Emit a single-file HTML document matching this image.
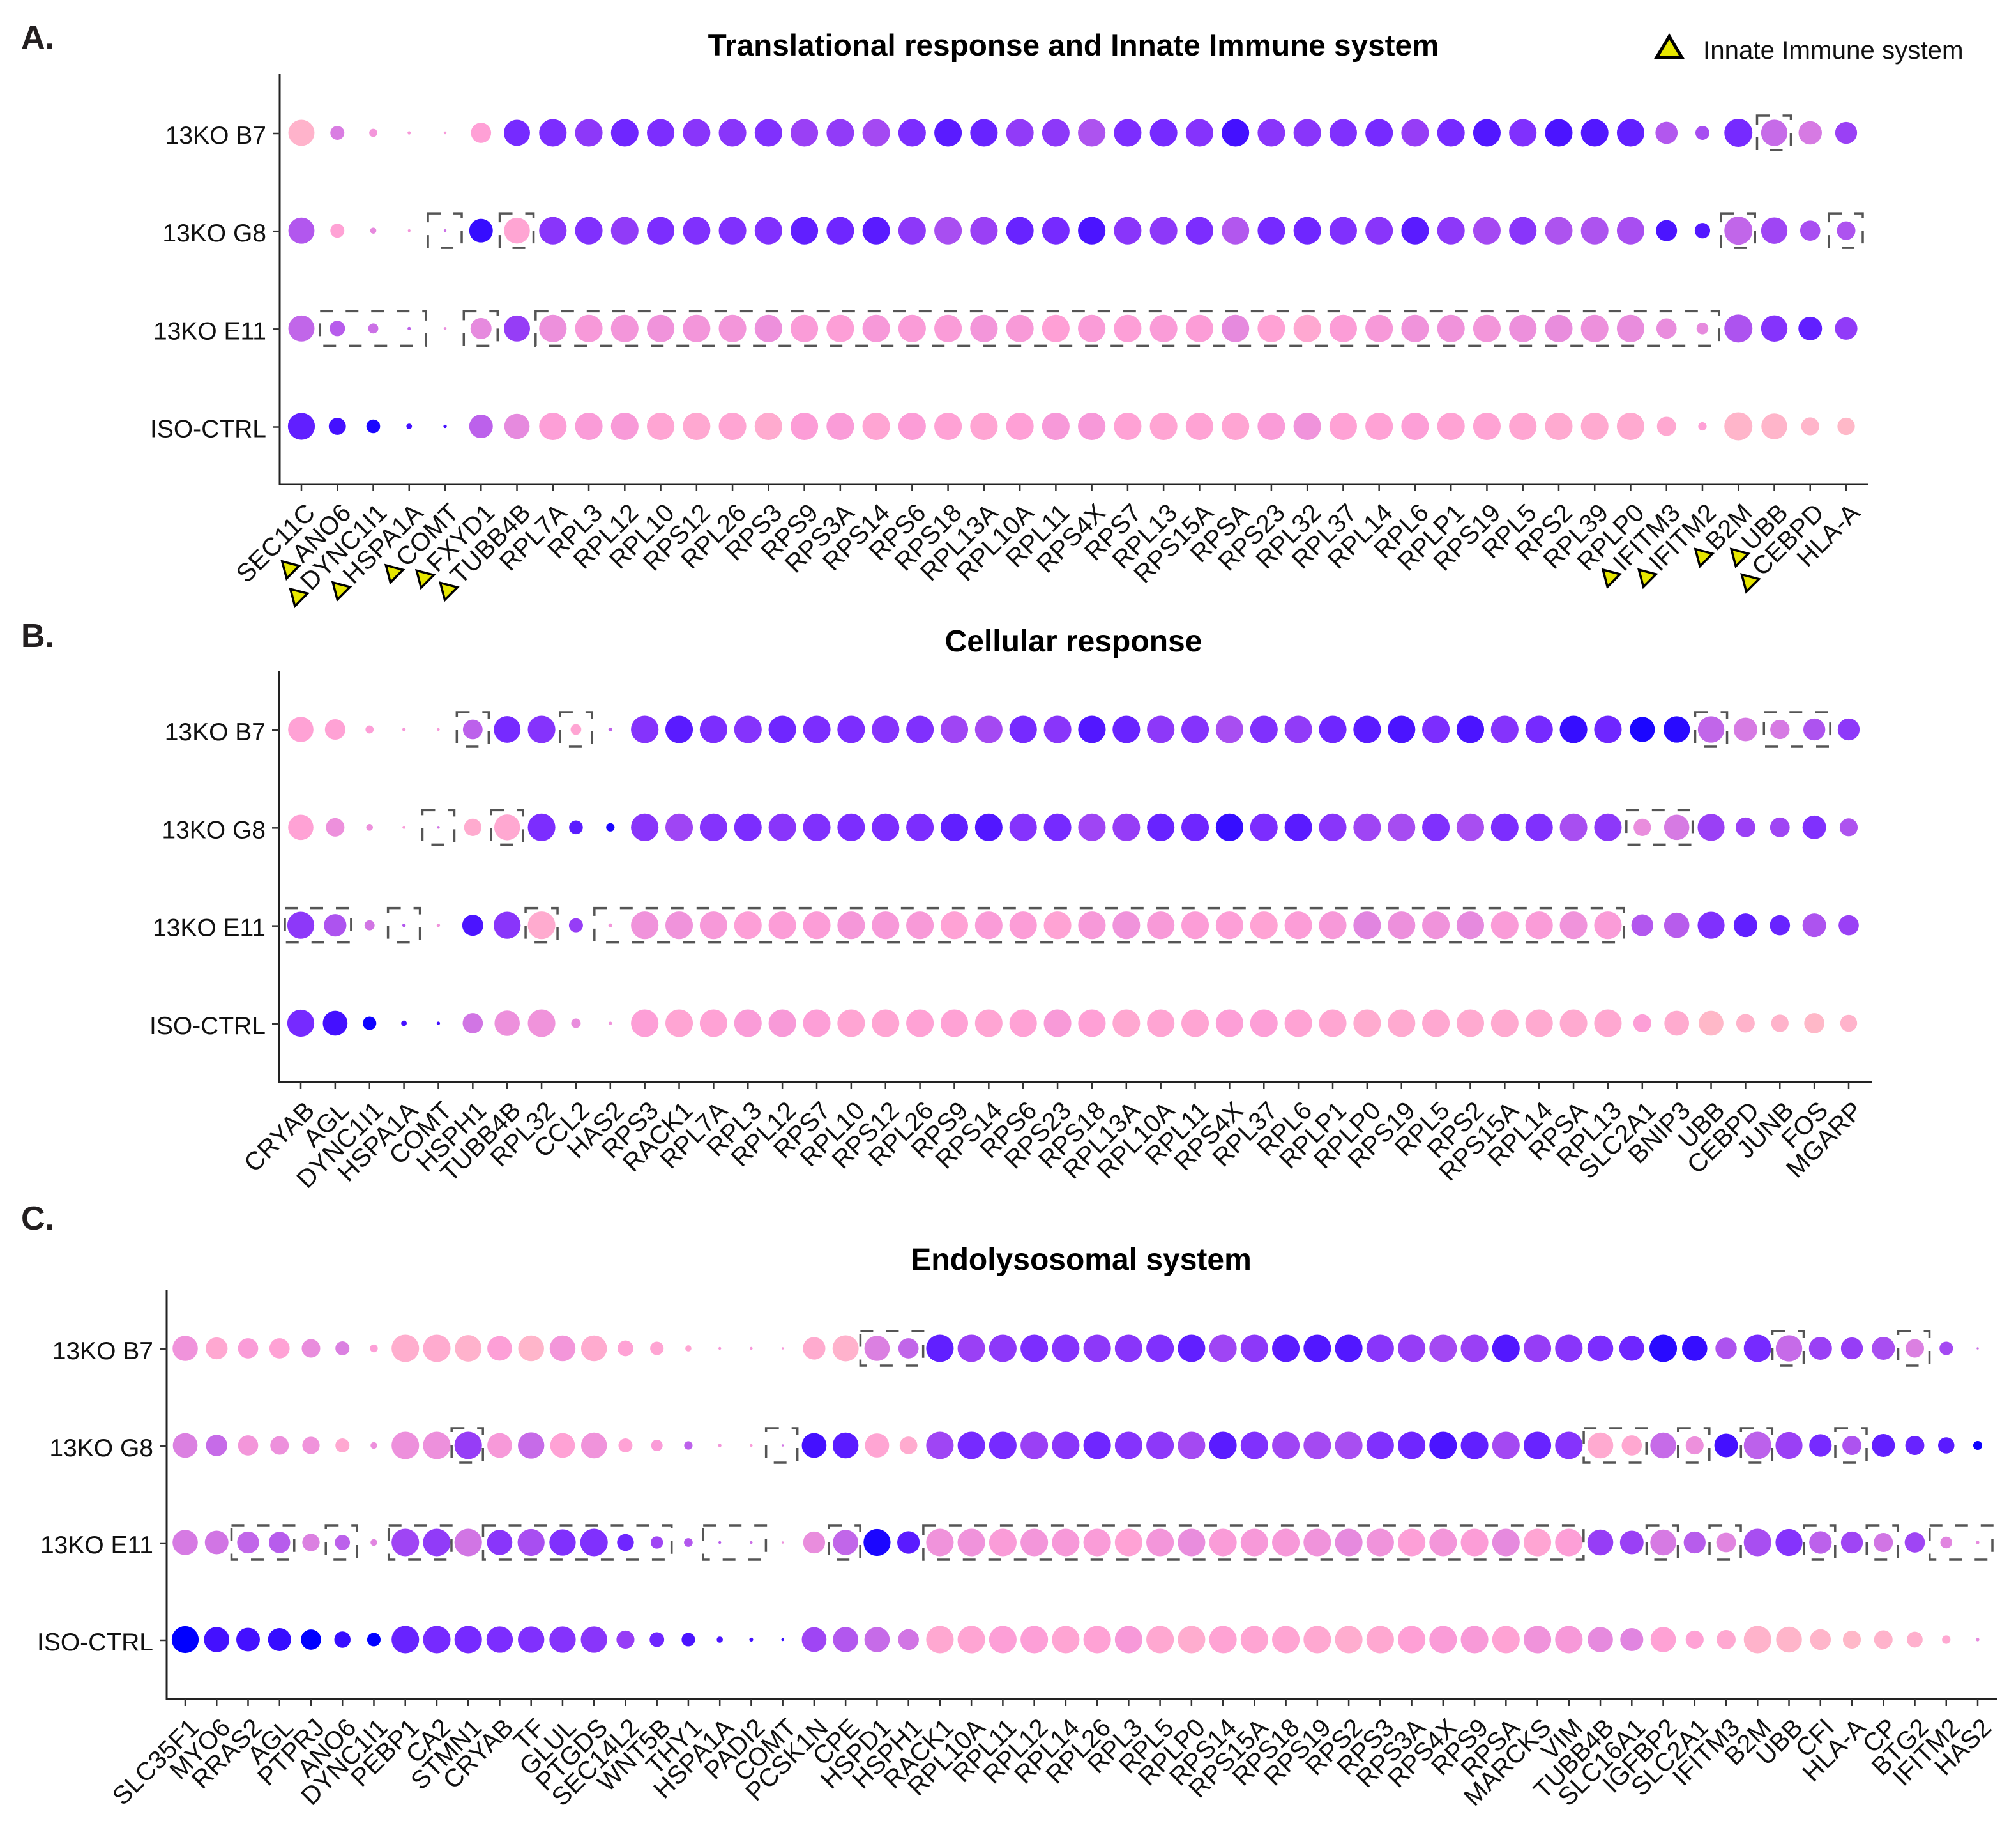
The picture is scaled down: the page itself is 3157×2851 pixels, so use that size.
<!DOCTYPE html>
<html lang="en">
<head>
<meta charset="utf-8">
<title>Dot plots: Translational response, Cellular response, Endolysosomal system</title>
<style>
html,body{margin:0;padding:0;background:#fff;}
svg{display:block;}
text{font-family:"Liberation Sans",sans-serif;fill:#111;}
</style>
</head>
<body>
<svg id="chart" xmlns="http://www.w3.org/2000/svg" width="3157" height="2851" viewBox="0 0 3157 2851">
  <text x="33" y="76" font-size="52" font-weight="700" style="fill:#231f20">A.</text>
  <text x="33" y="1013" font-size="52" font-weight="700" style="fill:#231f20">B.</text>
  <text x="33" y="1925" font-size="52" font-weight="700" style="fill:#231f20">C.</text>
  <text x="1681" y="87" font-size="47.7" font-weight="700" text-anchor="middle" style="fill:#000">Translational response and Innate Immune system</text>
  <text x="1681" y="1020" font-size="48" font-weight="700" text-anchor="middle" style="fill:#000">Cellular response</text>
  <text x="1693" y="1988" font-size="48" font-weight="700" text-anchor="middle" style="fill:#000">Endolysosomal system</text>
  <polygon points="2614,57 2634,90.4 2594,90.4" fill="#e6e600" stroke="#000" stroke-width="5"/>
  <text x="2667" y="92" font-size="40.3">Innate Immune system</text>
</svg>
<script>
// ---------- shared data ----------
const rowLabels = ['13KO B7','13KO G8','13KO E11','ISO-CTRL'];

// ---------- Panel A ----------
const genesA = ['SEC11C','ANO6','DYNC1I1','HSPA1A','COMT','FXYD1','TUBB4B','RPL7A','RPL3','RPL12','RPL10','RPS12','RPL26','RPS3','RPS9','RPS3A','RPS14','RPS6','RPS18','RPL13A','RPL10A','RPL11','RPS4X','RPS7','RPL13','RPS15A','RPSA','RPS23','RPL32','RPL37','RPL14','RPL6','RPLP1','RPS19','RPL5','RPS2','RPL39','RPLP0','IFITM3','IFITM2','B2M','UBB','CEBPD','HLA-A'];
const innateGenesA = ['ANO6','DYNC1I1','HSPA1A','COMT','FXYD1','TUBB4B','IFITM3','IFITM2','B2M','UBB','CEBPD'];
const pctA_B7 = [93,50,29,12,10,72,93,98,98,98,98,98,98,98,98,98,98,98,98,98,98,98,98,98,98,98,98,98,98,98,98,98,98,98,98,98,98,98,79,50,100,94,83,78];
const pctA_G8 = [93,50,22,10,10,84,92,98,98,98,98,98,98,98,98,98,98,98,98,98,98,98,98,98,98,98,98,98,98,98,98,98,98,98,98,98,98,98,75,55,100,94,72,66];
const pctA_E11 = [93,55,36,12,10,75,93,98,98,98,98,98,98,98,98,98,98,98,98,98,98,98,98,98,98,98,98,98,98,98,98,98,98,98,98,98,98,98,72,42,100,94,84,80];
const pctA_ISO = [96,61,49,20,12,84,90,98,98,98,98,98,98,98,98,98,98,98,98,98,98,98,98,98,98,98,98,98,98,98,98,98,98,98,98,98,98,98,68,30,100,92,64,62];
const exprA_B7 = [3,35,22,20,20,15,76,74,66,78,74,68,68,72,60,64,56,74,84,80,64,66,52,74,76,70,90,68,68,72,76,62,76,86,72,88,86,82,50,55,76,42,36,60];
const exprA_G8 = [50,14,30,22,40,92,12,68,72,64,74,72,72,72,82,78,84,66,54,60,80,76,88,68,66,74,50,76,78,72,68,84,66,56,68,52,52,54,88,86,44,58,54,52];
const exprA_E11 = [44,48,40,45,28,30,62,26,20,22,24,22,22,26,18,16,20,18,18,22,19,15,18,16,18,17,30,14,10,17,20,24,24,22,26,28,26,28,28,30,52,70,82,64];
const exprA_ISO = [82,90,96,90,90,46,30,16,18,19,12,10,12,8,17,18,12,17,14,12,15,20,20,14,12,13,12,18,24,14,14,16,13,13,11,9,9,9,10,15,2,2,2,0];
const boxesA = [[0,41,41],[1,4,4],[1,6,6],[1,40,40],[1,43,43],[2,1,3],[2,5,5],[2,7,39]];

// ---------- Panel B ----------
const genesB = ['CRYAB','AGL','DYNC1I1','HSPA1A','COMT','HSPH1','TUBB4B','RPL32','CCL2','HAS2','RPS3','RACK1','RPL7A','RPL3','RPL12','RPS7','RPL10','RPS12','RPL26','RPS9','RPS14','RPS6','RPS23','RPS18','RPL13A','RPL10A','RPL11','RPS4X','RPL37','RPL6','RPLP1','RPLP0','RPS19','RPL5','RPS2','RPS15A','RPL14','RPSA','RPL13','SLC2A1','BNIP3','UBB','CEBPD','JUNB','FOS','MGARP'];
const pctB_B7 = [90,73,29,12,10,70,95,98,38,14,98,98,98,98,98,98,98,98,98,98,98,98,98,98,98,98,98,98,98,98,98,98,98,98,98,98,98,98,98,89,94,94,84,69,78,78];
const pctB_G8 = [90,66,24,11,10,62,92,98,49,30,98,98,98,98,98,98,98,98,98,98,98,98,98,98,98,98,98,98,98,98,98,98,98,98,98,98,98,98,98,62,90,96,70,70,84,64];
const pctB_E11 = [96,80,36,12,12,75,96,98,50,14,98,98,98,98,98,98,98,98,98,98,98,98,98,98,98,98,98,98,98,98,98,98,98,98,98,98,98,98,98,78,90,96,84,72,84,72];
const pctB_ISO = [96,88,48,20,12,72,90,98,34,12,98,98,98,98,98,98,98,98,98,98,98,98,98,98,98,98,98,98,98,98,98,98,98,98,98,98,98,98,98,64,88,88,66,62,72,60];
const exprB_B7 = [14,14,16,20,20,46,76,70,12,45,70,84,74,70,78,74,74,70,72,58,56,76,68,86,80,66,70,54,72,64,78,84,88,74,88,70,76,92,78,96,94,44,36,36,52,66];
const exprB_G8 = [14,26,26,18,38,8,10,74,84,96,68,58,70,74,68,72,74,74,74,82,86,70,76,58,62,80,78,92,74,84,68,58,55,72,54,74,72,54,66,28,36,60,60,58,72,52];
const exprB_E11 = [66,52,38,50,24,88,68,8,62,22,24,24,20,16,17,17,21,20,19,14,18,17,13,20,24,19,17,16,13,17,20,32,26,24,30,18,18,24,18,50,48,72,82,80,52,60];
const exprB_ISO = [76,90,98,90,90,38,26,24,28,24,16,12,14,18,19,16,12,12,14,14,12,14,19,15,10,12,12,16,16,13,11,8,9,10,9,9,9,9,10,16,8,0,3,3,0,3];
const boxesB = [[0,5,5],[0,8,8],[0,41,41],[0,43,44],[1,4,4],[1,6,6],[1,39,40],[2,0,1],[2,3,3],[2,7,7],[2,9,38]];

// ---------- Panel C ----------
const genesC = ['SLC35F1','MYO6','RRAS2','AGL','PTPRJ','ANO6','DYNC1I1','PEBP1','CA2','STMN1','CRYAB','TF','GLUL','PTGDS','SEC14L2','WNT5B','THY1','HSPA1A','PADI2','COMT','PCSK1N','CPE','HSPD1','HSPH1','RACK1','RPL10A','RPL11','RPL12','RPL14','RPL26','RPL3','RPL5','RPLP0','RPS14','RPS15A','RPS18','RPS19','RPS2','RPS3','RPS3A','RPS4X','RPS9','RPSA','MARCKS','VIM','TUBB4B','SLC16A1','IGFBP2','SLC2A1','IFITM3','B2M','UBB','CFI','HLA-A','CP','BTG2','IFITM2','HAS2'];
const pctC_B7 = [90,78,72,72,66,50,28,98,98,95,88,92,92,92,56,48,22,10,10,8,80,93,90,72,98,98,98,98,98,98,98,98,98,98,98,98,98,98,98,98,98,98,98,98,98,92,89,98,90,76,98,94,82,78,82,66,48,8];
const pctC_G8 = [88,76,72,66,62,50,24,98,98,98,88,94,88,92,50,41,30,12,10,8,88,92,86,63,98,98,98,98,98,98,98,98,98,98,98,98,98,98,98,98,98,98,98,98,98,92,72,92,64,84,98,96,80,68,82,68,58,32];
const pctC_E11 = [90,84,78,76,62,54,24,98,98,98,90,96,94,98,60,44,31,10,10,8,78,90,96,80,98,98,98,98,98,98,98,98,98,98,98,98,98,98,98,98,98,98,98,98,98,92,84,92,78,70,98,96,80,78,68,72,42,12];
const pctC_ISO = [96,90,84,82,72,58,48,98,98,98,94,94,94,94,64,52,48,22,14,10,88,90,90,74,98,98,98,98,98,98,98,98,98,98,98,98,98,98,98,98,98,98,98,98,98,90,82,90,64,68,98,92,74,64,66,56,30,12];
const exprC_B7 = [24,10,18,14,28,34,16,6,8,4,16,2,22,8,14,12,12,20,20,20,8,4,34,44,82,60,66,74,70,66,68,72,82,58,66,84,86,86,68,62,56,60,86,62,68,74,78,94,92,52,76,42,60,62,54,34,56,40];
const exprC_G8 = [34,42,22,26,24,10,26,26,26,62,20,42,14,24,14,18,46,22,18,38,90,84,12,8,58,76,76,60,68,78,70,66,56,84,72,58,56,54,72,78,88,82,56,80,70,9,10,42,26,90,46,60,76,52,82,80,84,98];
const exprC_E11 = [36,38,44,48,34,46,32,58,64,38,68,54,72,72,78,58,50,48,40,26,28,44,96,84,24,24,18,22,20,18,14,22,28,18,20,20,24,30,24,16,22,17,30,12,16,62,60,36,48,32,54,70,46,58,38,58,32,30];
const exprC_ISO = [100,90,90,92,100,92,100,80,76,76,74,72,70,68,62,78,88,88,90,92,58,50,42,38,10,12,16,16,12,14,20,10,7,13,12,12,10,7,10,15,18,19,13,24,20,30,32,14,14,10,3,2,2,0,3,5,10,30];
const boxesC = [[0,22,23],[0,51,51],[0,55,55],[1,9,9],[1,19,19],[1,45,46],[1,48,48],[1,50,50],[1,53,53],[2,2,3],[2,5,5],[2,7,8],[2,10,15],[2,17,18],[2,21,21],[2,24,44],[2,47,47],[2,49,49],[2,52,52],[2,54,54],[2,56,57]];

// ---------- layout (not data) ----------
const panels = [
  {id:'a',genes:genesA,pct:[pctA_B7,pctA_G8,pctA_E11,pctA_ISO],expr:[exprA_B7,exprA_G8,exprA_E11,exprA_ISO],boxes:boxesA,innate:innateGenesA,
   axisX:438,axisTop:116,axisBottom:758,axisRight:2926,firstX:472,lastX:2891,firstY:208,lastY:667.5,padL:27,padR:26},
  {id:'b',genes:genesB,pct:[pctB_B7,pctB_G8,pctB_E11,pctB_ISO],expr:[exprB_B7,exprB_G8,exprB_E11,exprB_ISO],boxes:boxesB,innate:[],
   axisX:437,axisTop:1051,axisBottom:1694,axisRight:2931,firstX:471,lastX:2895,firstY:1142,lastY:1602,padL:25,padR:25},
  {id:'c',genes:genesC,pct:[pctC_B7,pctC_G8,pctC_E11,pctC_ISO],expr:[exprC_B7,exprC_G8,exprC_E11,exprC_ISO],boxes:boxesC,innate:[],
   axisX:261,axisTop:2020,axisBottom:2660,axisRight:3127,firstX:290,lastX:3097,firstY:2111,lastY:2567,padL:26,padR:23}
];

// colour ramp: expression 0..100
const rampStops = [0,15,30,45,60,75,90,100];
const rampColors = [[255,184,200],[255,160,214],[230,138,222],[190,99,234],[154,64,245],[122,44,255],[68,16,255],[0,0,255]];
function colorScale(v){
  let i = 0;
  while(i < rampStops.length-2 && v > rampStops[i+1]) i++;
  const f = Math.max(0,Math.min(1,(v-rampStops[i])/(rampStops[i+1]-rampStops[i])));
  const c = rampColors[i].map((a,k)=>Math.round(a+(rampColors[i+1][k]-a)*f));
  return 'rgb('+c.join(',')+')';
}
function radiusScale(p){ return p*0.22; }

const svg = document.getElementById('chart');
const NS = 'http://www.w3.org/2000/svg';
function mk(tag,attrs,parent){
  const el = document.createElementNS(NS,tag);
  for(const k in attrs) el.setAttribute(k,attrs[k]);
  (parent||svg).appendChild(el);
  return el;
}

panels.forEach(function(P){
  const n = P.genes.length;
  const xScale = function(i){ return P.firstX + i*(P.lastX-P.firstX)/(n-1); };
  const yScale = function(r){ return P.firstY + r*(P.lastY-P.firstY)/(rowLabels.length-1); };

  const g = mk('g',{});
  
  

  // axes
  const yAxis = mk('line',{x1:P.axisX,x2:P.axisX,y1:P.axisTop,y2:P.axisBottom+1.5,stroke:'#222','stroke-width':3},g);
  
  
  const xAxis = mk('line',{x1:P.axisX,x2:P.axisRight,y1:P.axisBottom,y2:P.axisBottom,stroke:'#222','stroke-width':3},g);
  
  

  // y ticks + labels
  rowLabels.forEach(function(label,r){
    const y = yScale(r);
    const t = mk('line',{x1:P.axisX-11,x2:P.axisX,y1:y+1,y2:y+1,stroke:'#333','stroke-width':2.5},g);
    
    
    const lb = mk('text',{x:P.axisX-21,y:y+17,'font-size':39,'text-anchor':'end'},g);
    lb.textContent = label;
    
    
  });

  // x ticks + labels + innate triangles
  P.genes.forEach(function(gene,i){
    const x = xScale(i);
    const t = mk('line',{x1:x,x2:x,y1:P.axisBottom,y2:P.axisBottom+11,stroke:'#333','stroke-width':2.5},g);
    
    
    const ax = x+24, ay = P.axisBottom+47;
    const lb = mk('text',{x:ax,y:ay,'font-size':40,'letter-spacing':'0.4','text-anchor':'end',transform:'rotate(-45 '+ax+' '+ay+')'},g);
    lb.textContent = gene;
    
    
    if(P.innate.indexOf(gene) >= 0){
      const w = lb.getComputedTextLength()*Math.SQRT1_2;
      const cx = ax-w-21, cy = ay+w+7;
      const tri = mk('polygon',{points:'0,-16 14,8 -14,8',fill:'#e6e600',stroke:'#000','stroke-width':3.5,transform:'translate('+cx+' '+cy+') rotate(-45)'},g);
      
      
    }
  });

  // dots
  rowLabels.forEach(function(label,r){
    P.genes.forEach(function(gene,i){
      const c = mk('circle',{cx:xScale(i),cy:yScale(r),r:radiusScale(P.pct[r][i]),fill:colorScale(P.expr[r][i])},g);
      
      
    });
  });

  // dashed highlight boxes
  P.boxes.forEach(function(b){
    const x0 = xScale(b[1])-P.padL, x1 = xScale(b[2])+P.padR, y = yScale(b[0]);
    const rect = mk('rect',{x:x0,y:y-27,width:x1-x0,height:54,fill:'none',stroke:'#555','stroke-width':3.5,'stroke-dasharray':'20 20'},g);
    
    
  });
});
</script>
</body>
</html>
